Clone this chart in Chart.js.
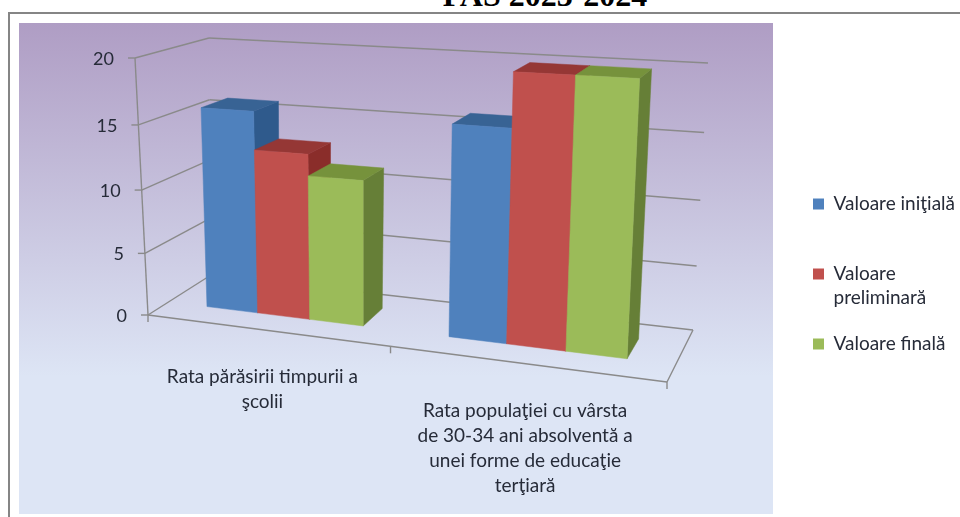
<!DOCTYPE html>
<html>
<head>
    <meta charset="utf-8">
    <title>PAS 2023-2024</title>
    <style>
        html, body { margin: 0; padding: 0; background: #fff; overflow: hidden; }
        #page { position: relative; width: 960px; height: 517px; overflow: hidden; }
        #title {
            position: absolute; left: 442px; top: -23px; width: 206px; text-align: center;
            font: bold 32px "Liberation Serif", serif; color: #000; white-space: nowrap; line-height: 36px;
        }
        #frame { position: absolute; left: 8px; top: 12px; right: 0; bottom: 0; border-top: 2px solid #858585; border-left: 2px solid #858585; }
        #plotBg {
            position: absolute; left: 19px; top: 23px; width: 754px; height: 491px;
            background: linear-gradient(to bottom, #af9dc4 0%, #dde5f5 72%, #dde5f5 100%);
        }
        #chart1 { position: absolute; left: 0; top: 0; }
    </style>
    <script src="https://cdn.jsdelivr.net/npm/chart.js"></script>
</head>
<body>
<div id="page">
    <div id="title">PAS 2023-2024</div>
    <div id="frame"></div>
    <div id="plotBg"></div>
    <canvas id="chart1" width="960" height="517"></canvas>
</div>
<script>
    var categories = [
        ['Rata părăsirii timpurii a', 'şcolii'],
        ['Rata populaţiei cu vârsta', 'de 30-34 ani absolventă a', 'unei forme de educaţie', 'terţiară']
    ];
    var seriesNames = ['Valoare iniţială', 'Valoare preliminară', 'Valoare finală'];
    var legendLines = [['Valoare iniţială', ''], ['Valoare', 'preliminară'], ['Valoare finală']];
    var initial = [15.9, 15.95];
    var preliminary = [12.95, 19.9];
    var finalValues = [11.3, 19.9];
    var yTicks = [0, 5, 10, 15, 20];

    var frontColors = ['#4f81bd', '#c0504d', '#9bbb59'];
    var topColors = ['#386394', '#953735', '#76923c'];
    var sideColors = ['#2f5a8c', '#8a2d2a', '#667f37'];
    var gridColor = '#8a8a8a';
    var textColor = '#262b38';

    // corners of the 3d box on the page: front/back, bottom/top, left/right
    var box = {
        fbl: [148, 315], fbr: [667, 382], bbl: [211, 275], bbr: [693, 330],
        ftl: [135, 58],  ftr: [682, 88],  btl: [209, 38],  btr: [708, 63]
    };
    var depthFront = 0.33, depthBack = 0.72;
    var labelNudge = [-3, 1];

    function persp(t, k) {
        return t / (t + k * (1 - t));
    }

    // u along the categories, v along the values, w into the picture, all 0..1
    function project(u, v, w) {
        var a = persp(u, 1.14), b = persp(v, 1.057), c = w;
        function mix(i) {
            var fb = box.fbl[i] + (box.fbr[i] - box.fbl[i]) * a;
            var bb = box.bbl[i] + (box.bbr[i] - box.bbl[i]) * a;
            var ft = box.ftl[i] + (box.ftr[i] - box.ftl[i]) * a;
            var bt = box.btl[i] + (box.btr[i] - box.btl[i]) * a;
            var bottom = fb + (bb - fb) * c;
            var top = ft + (bt - ft) * c;
            return bottom + (top - bottom) * b;
        }
        return [mix(0), mix(1)];
    }

    function line(ctx, p, q) {
        ctx.beginPath();
        ctx.moveTo(p[0], p[1]);
        ctx.lineTo(q[0], q[1]);
        ctx.stroke();
    }

    function quad(ctx, pts, color) {
        ctx.fillStyle = color;
        ctx.strokeStyle = color;
        ctx.lineWidth = 0.5;
        ctx.beginPath();
        pts.forEach(function(p, i) {
            if (i === 0) { ctx.moveTo(p[0], p[1]); } else { ctx.lineTo(p[0], p[1]); }
        });
        ctx.closePath();
        ctx.fill();
        ctx.stroke();
    }

    var box3d = {
        id: 'box3d',
        beforeDatasetsDraw: function(chart) {
            var ctx = chart.ctx, yScale = chart.scales.y, xScale = chart.scales.x, area = chart.chartArea;
            function vOf(value) {
                return (area.bottom - yScale.getPixelForValue(value)) / area.height;
            }
            ctx.save();
            ctx.lineWidth = 1.4;
            ctx.strokeStyle = gridColor;
            ctx.font = '18px Lato';
            ctx.fillStyle = textColor;
            ctx.textAlign = 'right';
            ctx.textBaseline = 'middle';

            // walls and value ticks
            yScale.ticks.forEach(function(tick) {
                var v = vOf(tick.value);
                var front = project(0, v, 0);
                var back = project(0, v, 1);
                line(ctx, front, back);
                line(ctx, back, project(1, v, 1));
                line(ctx, [front[0] - 7, front[1]], front);
                ctx.fillText(String(tick.value), front[0] - 21, front[1] + 1);
            });
            line(ctx, project(0, 0, 0), project(0, 1, 0));

            // floor edges and category ticks
            line(ctx, project(0, 0, 0), project(1, 0, 0));
            line(ctx, project(1, 0, 0), project(1, 0, 1));
            [0, 0.5, 1].forEach(function(u) {
                var p = project(u, 0, 0);
                line(ctx, p, [p[0], p[1] + 7]);
            });

            // category labels
            ctx.font = '19px Lato';
            ctx.textAlign = 'center';
            xScale.ticks.forEach(function(tick, i) {
                var u = (xScale.getPixelForTick(i) - area.left) / area.width;
                var p = project(u, 0, 0);
                categories[i].forEach(function(text, n) {
                    ctx.fillText(text, p[0] + labelNudge[i], p[1] + 47 + n * 25);
                });
            });

            // bars, left to right so the nearer right face covers the one before it
            categories.forEach(function(cat, c) {
                chart.data.datasets.forEach(function(ds, d) {
                    var bar = chart.getDatasetMeta(d).data[c];
                    var u0 = (bar.x - bar.width / 2 - area.left) / area.width;
                    var u1 = (bar.x + bar.width / 2 - area.left) / area.width;
                    var v = (area.bottom - bar.y) / area.height;
                    var f = depthFront, b = depthBack;
                    quad(ctx, [project(u1, 0, f), project(u1, 0, b), project(u1, v, b), project(u1, v, f)], sideColors[d]);
                    quad(ctx, [project(u0, v, f), project(u1, v, f), project(u1, v, b), project(u0, v, b)], topColors[d]);
                    quad(ctx, [project(u0, 0, f), project(u1, 0, f), project(u1, v, f), project(u0, v, f)], frontColors[d]);
                });
            });
            ctx.restore();
            return false;
        }
    };

    var chart1 = new Chart(document.getElementById('chart1').getContext('2d'), {
        type: 'bar',
        data: {
            labels: categories,
            datasets: [
                { label: seriesNames[0], data: initial, backgroundColor: frontColors[0] },
                { label: seriesNames[1], data: preliminary, backgroundColor: frontColors[1] },
                { label: seriesNames[2], data: finalValues, backgroundColor: frontColors[2] }
            ]
        },
        options: {
            responsive: false,
            animation: false,
            categoryPercentage: 0.66,
            barPercentage: 1,
            layout: { padding: { top: 36, right: -5 } },
            scales: {
                x: { display: false, grid: { display: false } },
                y: {
                    display: false, min: 0, max: 20,
                    afterBuildTicks: function(scale) {
                        scale.ticks = yTicks.map(function(v) { return { value: v }; });
                    }
                }
            },
            plugins: {
                tooltip: { enabled: false },
                legend: {
                    position: 'right',
                    labels: {
                        boxWidth: 11,
                        boxHeight: 11,
                        padding: 22,
                        color: textColor,
                        font: { family: 'Lato', size: 19, lineHeight: 1.263 },
                        generateLabels: function(chart) {
                            return legendLines.map(function(lines, i) {
                                return { text: lines, fontColor: textColor, fillStyle: frontColors[i], strokeStyle: frontColors[i], lineWidth: 0, datasetIndex: i };
                            });
                        }
                    }
                }
            }
        },
        plugins: [box3d]
    });
</script>
</body>
</html>
